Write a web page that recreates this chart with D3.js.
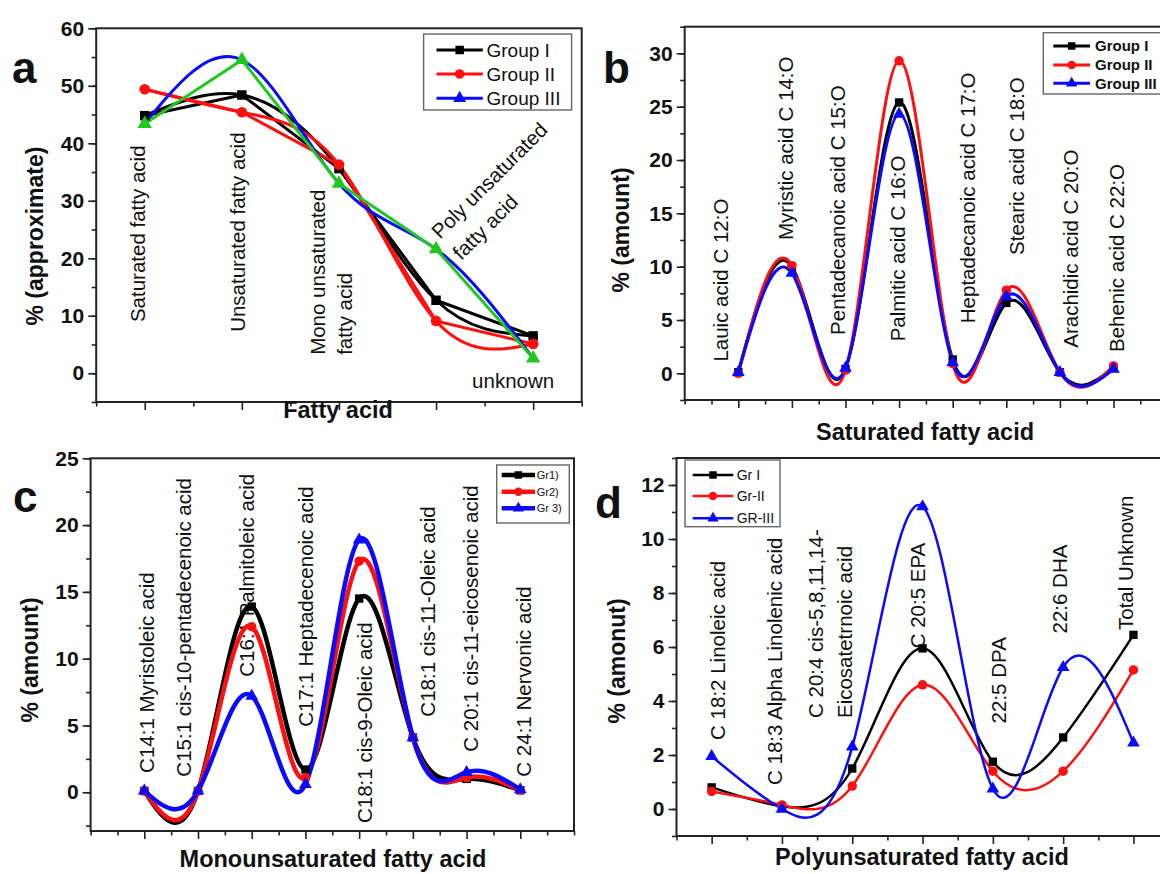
<!DOCTYPE html>
<html lang="en">
<head>
<meta charset="UTF-8">
<title>Fatty acid composition</title>
<script src="https://d3js.org/d3.v7.min.js"></script>
<style>
  body { margin: 0; background: #fff; }
  svg { font-family: "Liberation Sans", Arial, sans-serif; fill: #111; }
  .tick text { font-size: 21px; font-weight: bold; fill: #111; }
  .tick line { stroke: #222; stroke-width: 1.6; }
  .axis-title { font-size: 23px; font-weight: bold; }
  .x-title { font-size: 23.5px; }
  .cat-label { font-size: 20.5px; }
  .panel-letter { font-size: 44px; font-weight: bold; }
</style>
</head>
<body>
<div id="chart"></div>
<script>
// ---- data ----
// a: total fatty acids
const catsA = ["Saturated fatty acid", "Unsaturated fatty acid", "Mono unsaturated\nfatty acid",
               "Poly unsaturated\nfatty acid", "unknown"];
const aGroup1 = [44.8, 48.4, 35.6, 12.7, 6.5];
const aGroup2 = [49.4, 45.4, 36.3, 9.1, 5.1];
const aGroup3 = [43.4, 54.5, 33.0, 21.6, 2.6];
const yTicksA = [0, 10, 20, 30, 40, 50, 60];

// b: saturated
const catsB = ["Lauic acid C 12:O", "Myristic acid C 14:O", "Pentadecanoic acid C 15:O", "Palmitic  acid C 16:O",
               "Heptadecanoic acid C 17:O", "Stearic acid C 18:O", "Arachidic acid C 20:O", "Behenic acid C 22:O"];
const bGroup1 = [0.1, 10.0, 0.4, 25.4, 1.3, 6.6, 0.1, 0.5];
const bGroup2 = [0.0, 10.1, 0.3, 29.3, 0.9, 7.8, 0.1, 0.7];
const bGroup3 = [0.1, 9.4, 0.5, 24.3, 1.0, 7.2, 0.1, 0.4];
const yTicksB = [0, 5, 10, 15, 20, 25, 30];

// c: monounsaturated
const catsC = ["C14:1  Myristoleic acid", "C15:1 cis-10-pentadecenoic acid", "C16:1 Palmitoleic acid",
               "C17:1 Heptadecenoic acid", "C18:1 cis-9-Oleic acid", "C18:1 cis-11-Oleic acid",
               "C 20:1 cis-11-eicosenoic acid", "C 24:1 Nervonic acid"];
const cGroup1 = [0.1, 0.1, 13.9, 1.7, 14.5, 4.1, 1.0, 0.15];
const cGroup2 = [0.1, 0.1, 12.4, 1.1, 17.3, 4.1, 1.1, 0.15];
const cGroup3 = [0.1, 0.1, 7.2, 0.6, 18.9, 4.1, 1.5, 0.2];
const yTicksC = [0, 5, 10, 15, 20, 25];

// d: polyunsaturated
const catsD = ["C 18:2 Linoleic acid", "C 18:3 Alpha Linolenic acid", "C 20:4 cis-5,8,11,14-\nEicosatetrnoic acid",
               "C 20:5 EPA", "22:5 DPA", "22:6 DHA", "Total Unknown"];
const dGroup1 = [0.8, 0.1, 1.5, 5.95, 1.75, 2.65, 6.45];
const dGroup2 = [0.65, 0.15, 0.85, 4.6, 1.4, 1.4, 5.15];
const dGroup3 = [1.95, 0.0, 2.3, 11.2, 0.75, 5.25, 2.45];
const yTicksD = [0, 2, 4, 6, 8, 10, 12];

// ---- styling ----
const BLACK = "#000", RED = "#ff1010", BLUE = "#0a0aff", GREEN = "#1ec81e";

const svg = d3.select("#chart").append("svg")
    .attr("width", 1160).attr("height", 874);

function drawPanel(p) {
    const g = svg.append("g");
    const x = d3.scaleLinear().domain(p.xDomain).range([p.left, p.right]);
    const y = d3.scaleLinear().domain(p.yDomain).range([p.bottom, p.top]);
    const n = p.categories.length;

    const majorX = d3.range(1, n + 1);
    const minorX = d3.range(Math.ceil(p.xDomain[0] * 2) / 2, p.xDomain[1] + 0.01, 0.5)
        .filter(v => !Number.isInteger(v) || v < 1 || v > n);
    const minorY = d3.range(p.yMinorStart, p.yDomain[1] + 0.001, p.yMinorStep);

    // ticks
    const styleAxis = sel => sel.select(".domain").remove();
    g.append("g").attr("transform", `translate(0,${p.bottom})`)
        .call(d3.axisBottom(x).tickValues(minorX).tickSize(4.5).tickFormat("")).call(styleAxis);
    g.append("g").attr("transform", `translate(0,${p.bottom})`)
        .call(d3.axisBottom(x).tickValues(majorX).tickSize(8).tickFormat("")).call(styleAxis);
    g.append("g").attr("transform", `translate(${p.left},0)`)
        .call(d3.axisLeft(y).tickValues(minorY).tickSize(4.5).tickFormat("")).call(styleAxis);
    g.append("g").attr("transform", `translate(${p.left},0)`)
        .call(d3.axisLeft(y).tickValues(p.yTicks).tickSize(8).tickPadding(4)).call(styleAxis);

    // frame
    g.append("rect")
        .attr("x", p.left).attr("y", p.top)
        .attr("width", p.right - p.left).attr("height", p.bottom - p.top)
        .attr("fill", "none").attr("stroke", "#222").attr("stroke-width", 2);

    // category labels
    p.categories.forEach((label, i) => {
        const lay = p.labelLayout[i];
        const lines = label.split("\n");
        const bx = x(i + 1) + lay.dx;
        const by = y(lay.at);
        const t = g.append("text").attr("class", "cat-label")
            .attr("transform", `translate(${bx},${by}) rotate(${lay.rot})`)
            .attr("text-anchor", lay.anchor || "start");
        lines.forEach((ln, k) => {
            t.append("tspan").attr("x", 0).attr("y", k * (lay.gap || 0)).text(ln);
        });
    });

    // lines
    const spline = d3.line().x((d, i) => x(i + 1)).y(d => y(d)).curve(d3.curveNatural);
    const straight = d3.line().x((d, i) => x(i + 1)).y(d => y(d));
    p.series.forEach(s => {
        g.append("path").attr("d", spline(s.values))
            .attr("fill", "none").attr("stroke", s.color)
            .attr("stroke-width", p.lineWidth).attr("stroke-linejoin", "round");
        if (s.linearColor) {
            g.append("path").attr("d", straight(s.values))
                .attr("fill", "none").attr("stroke", s.linearColor)
                .attr("stroke-width", p.lineWidth).attr("stroke-linejoin", "round");
        }
    });

    // markers
    p.series.forEach(s => {
        g.selectAll(null).data(s.values).enter().append("path")
            .attr("d", d3.symbol().type(s.symbol).size(p.markerSize))
            .attr("transform", (d, i) => `translate(${x(i + 1)},${y(d)})`)
            .attr("fill", s.markerColor || s.color);
    });

    // legend
    const L = p.legend;
    g.append("rect").attr("x", L.x0).attr("y", L.y0)
        .attr("width", L.x1 - L.x0).attr("height", L.y1 - L.y0)
        .attr("fill", "#fff").attr("stroke", "#666").attr("stroke-width", 1.4);
    p.series.forEach((s, k) => {
        const ly = L.rows[k];
        g.append("line").attr("x1", L.lineX0).attr("x2", L.lineX1)
            .attr("y1", ly).attr("y2", ly)
            .attr("stroke", s.color).attr("stroke-width", p.lineWidth);
        g.append("path")
            .attr("d", d3.symbol().type(s.symbol).size(p.markerSize * 0.8))
            .attr("transform", `translate(${(L.lineX0 + L.lineX1) / 2},${ly})`)
            .attr("fill", s.color);
        g.append("text").attr("x", L.textX).attr("y", ly)
            .attr("dy", "0.36em")
            .style("font-size", L.fontSize + "px")
            .style("font-weight", L.bold ? "bold" : "normal")
            .text(s.name);
    });

    // titles
    g.append("text").attr("class", "axis-title")
        .attr("transform", `translate(${p.yTitle[0]},${p.yTitle[1]}) rotate(-90)`)
        .attr("text-anchor", "middle").attr("dy", "0.36em").text(p.yTitleText);
    g.append("text").attr("class", "axis-title x-title")
        .attr("x", p.xTitle[0]).attr("y", p.xTitle[1])
        .attr("text-anchor", "middle").text(p.xTitleText);
    g.append("text").attr("class", "panel-letter")
        .attr("x", p.letterPos[0]).attr("y", p.letterPos[1]).text(p.letter);
}

// ---- panel a ----
drawPanel({
    letter: "a", letterPos: [12, 83],
    left: 96.2, right: 581.7, top: 28.3, bottom: 402,
    xDomain: [0.5, 5.5], yDomain: [-5, 60], yTicks: yTicksA, yMinorStart: -5, yMinorStep: 5,
    categories: catsA,
    labelLayout: [
        {dx: 0, at: 8.9, rot: -90},
        {dx: 2.7, at: 7.2, rot: -90},
        {dx: -14, at: 3.2, rot: -90, gap: 27},
        {dx: 4, at: 23.2, rot: -45, gap: 30},
        {dx: -20, at: -2.6, rot: 0, anchor: "middle"}
    ],
    series: [
        {name: "Group I", values: aGroup1, color: BLACK, linearColor: BLACK, symbol: d3.symbolSquare},
        {name: "Group II", values: aGroup2, color: RED, linearColor: RED, symbol: d3.symbolCircle},
        {name: "Group III", values: aGroup3, color: BLUE, linearColor: GREEN, markerColor: GREEN, symbol: d3.symbolTriangle}
    ],
    lineWidth: 3, markerSize: 90,
    legend: {x0: 423.6, x1: 571.6, y0: 34, y1: 110, rows: [50, 74, 98.3],
             lineX0: 436.5, lineX1: 482.8, textX: 486.5, fontSize: 19, bold: false},
    yTitle: [35, 236], yTitleText: "% (approximate)",
    xTitle: [338, 418], xTitleText: "Fatty acid"
});

// ---- panel b ----
drawPanel({
    letter: "b", letterPos: [603, 83],
    left: 684.7, right: 1167.1, top: 26.7, bottom: 400,
    xDomain: [0, 9], yDomain: [-2.5, 32.5], yTicks: yTicksB, yMinorStart: -2.5, yMinorStep: 2.5,
    categories: catsB,
    labelLayout: [
        {dx: -10, at: 1.1, rot: -90},
        {dx: 1.3, at: 12.5, rot: -90},
        {dx: -0.5, at: 3.6, rot: -90},
        {dx: 6, at: 3.0, rot: -90},
        {dx: 21.8, at: 4.7, rot: -90},
        {dx: 18.1, at: 11.1, rot: -90},
        {dx: 18.1, at: 2.4, rot: -90},
        {dx: 10.8, at: 2.0, rot: -90}
    ],
    series: [
        {name: "Group I", values: bGroup1, color: BLACK, symbol: d3.symbolSquare},
        {name: "Group II", values: bGroup2, color: RED, symbol: d3.symbolCircle},
        {name: "Group III", values: bGroup3, color: BLUE, symbol: d3.symbolTriangle}
    ],
    lineWidth: 3, markerSize: 70,
    legend: {x0: 1043.3, x1: 1175, y0: 32.7, y1: 94, rows: [46, 65, 83.3],
             lineX0: 1053.3, lineX1: 1090, textX: 1095, fontSize: 15, bold: true},
    yTitle: [620.7, 230], yTitleText: "% (amount)",
    xTitle: [925, 440], xTitleText: "Saturated fatty acid"
});

// ---- panel c ----
drawPanel({
    letter: "c", letterPos: [13, 512],
    left: 90.6, right: 574, top: 458.3, bottom: 831,
    xDomain: [0, 9], yDomain: [-2.9, 25], yTicks: yTicksC, yMinorStart: -2.5, yMinorStep: 2.5,
    categories: catsC,
    labelLayout: [
        {dx: 9.7, at: 1.45, rot: -90},
        {dx: -7, at: 1.17, rot: -90},
        {dx: 2.2, at: 8.65, rot: -90},
        {dx: 7.5, at: 4.9, rot: -90},
        {dx: 13.1, at: -2.3, rot: -90},
        {dx: 22.3, at: 5.66, rot: -90},
        {dx: 11.1, at: 3.04, rot: -90},
        {dx: 11, at: 1.17, rot: -90}
    ],
    series: [
        {name: "Gr1)", values: cGroup1, color: BLACK, symbol: d3.symbolSquare},
        {name: "Gr2)", values: cGroup2, color: RED, symbol: d3.symbolCircle},
        {name: "Gr 3)", values: cGroup3, color: BLUE, symbol: d3.symbolTriangle}
    ],
    lineWidth: 4.5, markerSize: 70,
    legend: {x0: 496.7, x1: 569.3, y0: 465, y1: 523, rows: [475, 491.7, 508.3],
             lineX0: 501.7, lineX1: 535, textX: 536.7, fontSize: 11, bold: false},
    yTitle: [29.6, 660], yTitleText: "% (amount)",
    xTitle: [333, 867], xTitleText: "Monounsaturated fatty acid"
});

// ---- panel d ----
drawPanel({
    letter: "d", letterPos: [595, 518],
    left: 676.5, right: 1168.6, top: 458, bottom: 836,
    xDomain: [0.5, 7.5], yDomain: [-1, 13], yTicks: yTicksD, yMinorStart: -1, yMinorStep: 1,
    categories: catsD,
    labelLayout: [
        {dx: 13, at: 2.56, rot: -90},
        {dx: 0.1, at: 0.89, rot: -90},
        {dx: -29.5, at: 3.37, rot: -90, gap: 29.6},
        {dx: 2, at: 5.95, rot: -90},
        {dx: 13, at: 3.17, rot: -90},
        {dx: 4, at: 6.5, rot: -90},
        {dx: 0, at: 6.63, rot: -90}
    ],
    series: [
        {name: "Gr I", values: dGroup1, color: BLACK, symbol: d3.symbolSquare},
        {name: "Gr-II", values: dGroup2, color: RED, symbol: d3.symbolCircle},
        {name: "GR-III", values: dGroup3, color: BLUE, symbol: d3.symbolTriangle}
    ],
    lineWidth: 2.5, markerSize: 70,
    legend: {x0: 685, x1: 780, y0: 460, y1: 526.7, rows: [475, 496, 518.3],
             lineX0: 692.7, lineX1: 733.3, textX: 736.7, fontSize: 14, bold: false},
    yTitle: [617, 661], yTitleText: "% (amonut)",
    xTitle: [922, 865], xTitleText: "Polyunsaturated fatty acid"
});
</script>
</body>
</html>
